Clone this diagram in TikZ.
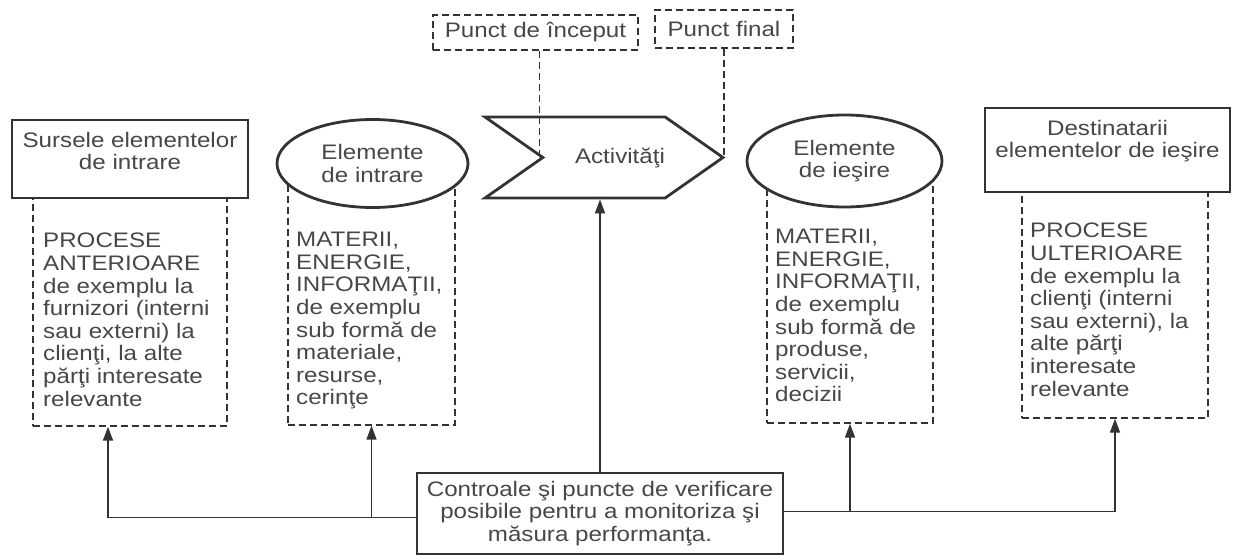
\documentclass[tikz,border=0pt]{standalone}
\usepackage{fontspec}
\setmainfont{Liberation Sans}[FakeStretch=1.15]
\usetikzlibrary{shapes.geometric,shapes.symbols,arrows.meta}
\definecolor{ink}{gray}{0.2}
\definecolor{txt}{gray}{0.28}
\tikzset{
  txtfont/.style={font=\fontsize{21}{22.6}\selectfont, text=txt},
  thickbox/.style={draw=ink, line width=2.8pt, fill=white},
  oval/.style={ellipse, draw=ink, line width=2.8pt, fill=white, inner sep=0pt, txtfont, align=center},
  dashframe/.style={draw=ink, line width=1.4pt, dash pattern=on 7pt off 4pt, inner sep=0pt},
  listtext/.style={txtfont, align=left, anchor=north west, inner sep=0pt},
  headtext/.style={txtfont, align=center, inner sep=0pt},
  flow/.style={draw=ink, line width=1.6pt, -{Triangle[length=14pt,width=10pt]}},
}

\begin{document}
\begin{tikzpicture}[x=1pt,y=-1pt]
\useasboundingbox (0,0) rectangle (1236,556);
% dashed frames (their tops go under the shapes above them)
\node (srcframe) [dashframe, minimum width=194pt, minimum height=236pt] at (130,308) {};
\node (inframe) [dashframe, minimum width=167pt, minimum height=250pt] at (371.5,300) {};
\node (outframe) [dashframe, minimum width=166pt, minimum height=248pt] at (850,299) {};
\node (dstframe) [dashframe, minimum width=186pt, minimum height=233pt] at (1115,301.5) {};

% main row
\node (src) [thickbox, minimum width=236pt, minimum height=78pt] at (130,159) {};
\node (srctext) [headtext] at (130,151) {Sursele elementelor\\de intrare};
\node (inoval) [oval, minimum width=191pt, minimum height=88pt] at (372.5,163.5) {Elemente\\de intrare};
\node (act) [signal, signal to=east, signal from=west, signal pointer angle=70,
  draw=ink, line width=2.8pt, fill=white, minimum width=238pt, minimum height=81pt,
  inner sep=0pt, txtfont] at (604,157.5) {\hspace*{32pt}Activităţi};
\node (outoval) [oval, minimum width=195pt, minimum height=92pt] at (844.5,161) {Elemente\\de ieşire};
\node (dst) [thickbox, minimum width=245pt, minimum height=84pt] at (1107.5,150) {};
\node (dsttext) [headtext] at (1107.5,141) {Destinatarii\\elementelor de ieşire};

% start and end points
\node (start) [dashframe, txtfont, minimum width=205pt, minimum height=35pt] at (535.5,32.5) {Punct de început};
\node (final) [dashframe, txtfont, minimum width=138pt, minimum height=38pt] at (724,29) {Punct final};
\draw[dashframe] ([xshift=4pt]start.south) -- ([xshift=4pt]start.south |- act.center);
\draw[dashframe] (final.south) -- (final.south |- act.center);

% lists
\node (srclist) [listtext] at (43,233) {PROCESE\\ANTERIOARE\\de exemplu la\\furnizori (interni\\sau externi) la\\clienţi, la alte\\părţi interesate\\relevante};
\node (inlist) [listtext] at (296,232) {MATERII,\\ENERGIE,\\INFORMAŢII,\\de exemplu\\sub formă de\\materiale,\\resurse,\\cerinţe};
\node (outlist) [listtext] at (775,229) {MATERII,\\ENERGIE,\\INFORMAŢII,\\de exemplu\\sub formă de\\produse,\\servicii,\\decizii};
\node (dstlist) [listtext] at (1030,223) {PROCESE\\ULTERIOARE\\de exemplu la\\clienţi (interni\\sau externi), la\\alte părţi\\interesate\\relevante};

% controls
\node (ctrl) [draw=ink, line width=1.4pt, fill=white, headtext, minimum width=366pt, minimum height=81pt] at (600,513.5)
  {Controale şi puncte de verificare\\posibile pentru a monitoriza şi\\măsura performanţa.};
\coordinate (lbus) at ([yshift=-4pt]ctrl.west);
\coordinate (rbus) at ([yshift=2pt]ctrl.east);
\draw[flow] (ctrl.north) -- (ctrl.north |- act.south);
\draw[flow] (lbus) -| ([xshift=-22pt]srcframe.south);
\draw[flow] (lbus -| inframe.south) -- (inframe.south);
\draw[flow] (rbus) -| (dstframe.south);
\draw[flow] (rbus -| outframe.south) -- (outframe.south);
\end{tikzpicture}
\end{document}
